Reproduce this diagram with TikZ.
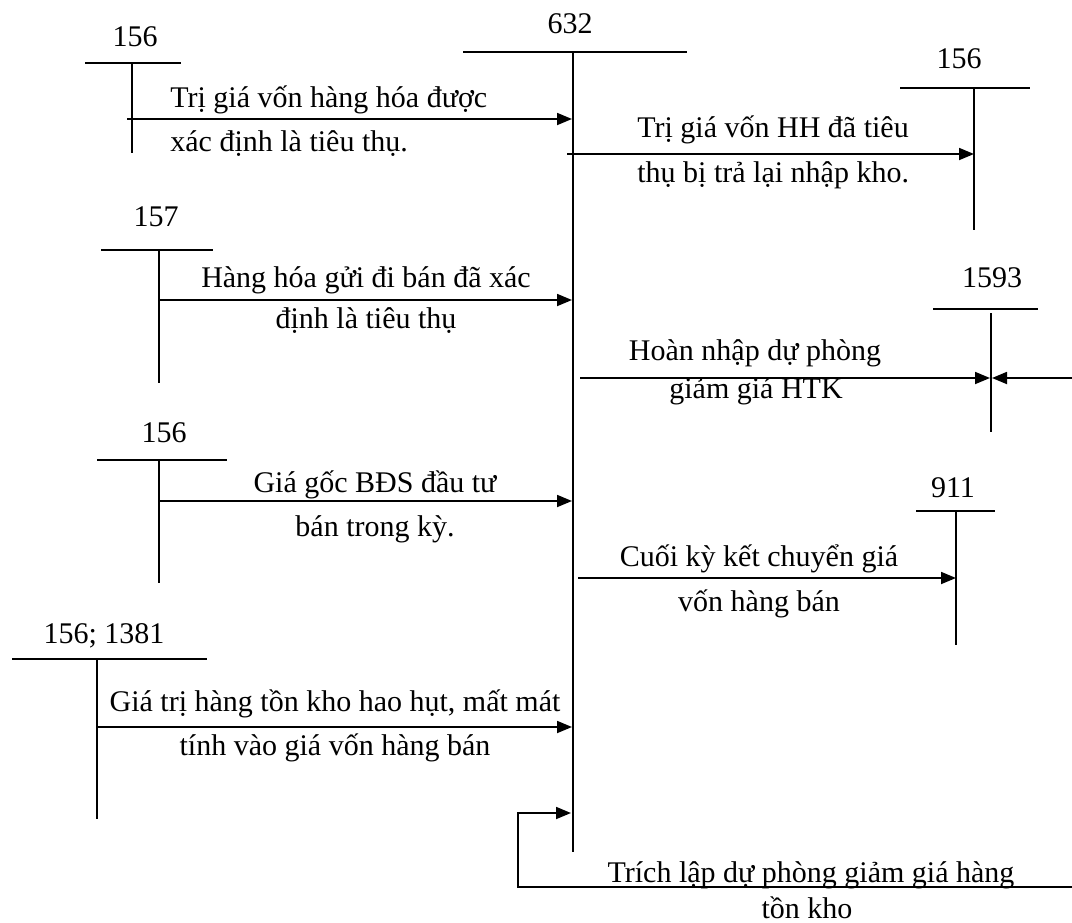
\documentclass[tikz,border=0pt]{standalone}
\usepackage{fontspec}
\setmainfont{Liberation Serif}
\usetikzlibrary{arrows.meta}
\begin{document}
\begin{tikzpicture}[x=0.5pt,y=-0.5pt,
  acc/.style={line width=0.9pt},
  flow/.style={line width=0.9pt,-{Triangle[length=7.5pt,width=6pt]}},
  lbl/.style={font=\fontsize{15}{18}\selectfont,inner sep=0pt,anchor=base},
  lbll/.style={lbl,anchor=base west}]
\useasboundingbox (0,0) rectangle (1072,922);

% ---- account 632 ----
\node[lbl] (n632) at (570,33) {632};
\coordinate (h632a) at (463,52); \coordinate (h632b) at (687,52);
\coordinate (v632a) at (573,52); \coordinate (v632b) at (573,852);
\draw[acc] (h632a) -- (h632b);
\draw[acc] (v632a) -- (v632b);

% ---- 156 (top left) ----
\node[lbl] (n156a) at (135,46) {156};
\coordinate (h1a) at (85,63); \coordinate (h1b) at (181,63);
\coordinate (v1a) at (132,63); \coordinate (v1b) at (132,153);
\draw[acc] (h1a) -- (h1b); \draw[acc] (v1a) -- (v1b);
\coordinate (s1) at (127,119); \coordinate (e1) at (572,119);
\draw[flow] (s1) -- (e1);
\node[lbll] (t1a) at (170,107) {Trị giá vốn hàng hóa được};
\node[lbll] (t1b) at (170,151) {xác định là tiêu thụ.};

% ---- 156 (top right) ----
\node[lbl] (n156b) at (959,68) {156};
\coordinate (h2a) at (900,88); \coordinate (h2b) at (1030,88);
\coordinate (v2a) at (974,88); \coordinate (v2b) at (974,230);
\draw[acc] (h2a) -- (h2b); \draw[acc] (v2a) -- (v2b);
\coordinate (s2) at (567,154); \coordinate (e2) at (974,154);
\draw[flow] (s2) -- (e2);
\node[lbll] (t2a) at (637,137) {Trị giá vốn HH đã tiêu};
\node[lbll] (t2b) at (637,182) {thụ bị trả lại nhập kho.};

% ---- 157 ----
\node[lbl] (n157) at (156,226) {157};
\coordinate (h3a) at (101,250); \coordinate (h3b) at (213,250);
\coordinate (v3a) at (159,250); \coordinate (v3b) at (159,383);
\draw[acc] (h3a) -- (h3b); \draw[acc] (v3a) -- (v3b);
\coordinate (s3) at (159,300); \coordinate (e3) at (572,300);
\draw[flow] (s3) -- (e3);
\node[lbl] (t3a) at (366,287) {Hàng hóa gửi đi bán đã xác};
\node[lbl] (t3b) at (366,328) {định là tiêu thụ};

% ---- 1593 ----
\node[lbl] (n1593) at (992,287) {1593};
\coordinate (h4a) at (933,309); \coordinate (h4b) at (1038,309);
\coordinate (v4a) at (991,313); \coordinate (v4b) at (991,432);
\draw[acc] (h4a) -- (h4b); \draw[acc] (v4a) -- (v4b);
\coordinate (s4) at (580,378); \coordinate (e4) at (990,378);
\draw[flow] (s4) -- (e4);
\coordinate (s4r) at (1072,378); \coordinate (e4r) at (992,378);
\draw[flow] (s4r) -- (e4r);
\node[lbl] (t4a) at (755,360) {Hoàn nhập dự phòng};
\node[lbl] (t4b) at (756,398) {giảm giá HTK};

% ---- 156 (third) ----
\node[lbl] (n156c) at (164,442) {156};
\coordinate (h5a) at (97,460); \coordinate (h5b) at (227,460);
\coordinate (v5a) at (159,460); \coordinate (v5b) at (159,583);
\draw[acc] (h5a) -- (h5b); \draw[acc] (v5a) -- (v5b);
\coordinate (s5) at (159,501); \coordinate (e5) at (572,501);
\draw[flow] (s5) -- (e5);
\node[lbl] (t5a) at (375,492) {Giá gốc BĐS đầu tư};
\node[lbl] (t5b) at (375,536) {bán trong kỳ.};

% ---- 911 ----
\node[lbl] (n911) at (953,497) {911};
\coordinate (h7a) at (916,511); \coordinate (h7b) at (995,511);
\coordinate (v7a) at (956,511); \coordinate (v7b) at (956,645);
\draw[acc] (h7a) -- (h7b); \draw[acc] (v7a) -- (v7b);
\coordinate (s7) at (578,578); \coordinate (e7) at (956,578);
\draw[flow] (s7) -- (e7);
\node[lbl] (t7a) at (759,566) {Cuối kỳ kết chuyển giá};
\node[lbl] (t7b) at (759,611) {vốn hàng bán};

% ---- 156; 1381 ----
\node[lbl] (n1381) at (104,643) {156; 1381};
\coordinate (h6a) at (12,659); \coordinate (h6b) at (207,659);
\coordinate (v6a) at (97,659); \coordinate (v6b) at (97,819);
\draw[acc] (h6a) -- (h6b); \draw[acc] (v6a) -- (v6b);
\coordinate (s6) at (97,727); \coordinate (e6) at (572,727);
\draw[flow] (s6) -- (e6);
\node[lbl] (t6a) at (335,711) {Giá trị hàng tồn kho hao hụt, mất mát};
\node[lbl] (t6b) at (335,755) {tính vào giá vốn hàng bán};

% ---- loop: trich lap du phong ----
\coordinate (s8) at (1072,887); \coordinate (c8a) at (518,887);
\coordinate (c8b) at (518,813); \coordinate (e8) at (571,813);
\draw[flow] (s8) -- (c8a) -- (c8b) -- (e8);
\node[lbl] (t8a) at (811,882) {Trích lập dự phòng giảm giá hàng};
\node[lbl] (t8b) at (807,918) {tồn kho};
\end{tikzpicture}
\end{document}
